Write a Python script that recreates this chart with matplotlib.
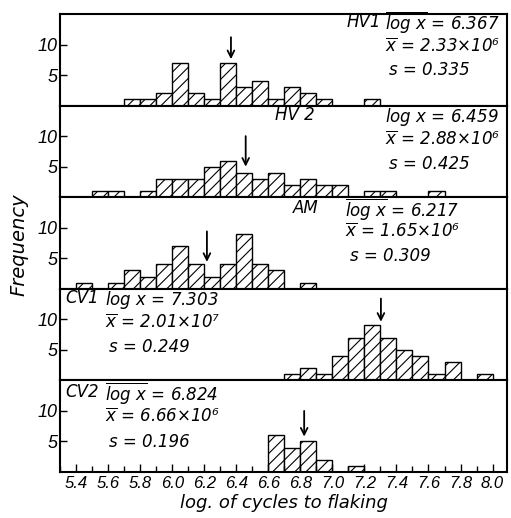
import matplotlib
matplotlib.use('Agg')
import matplotlib.pyplot as plt
from matplotlib.ticker import MultipleLocator, FormatStrFormatter

# ---------------- data ----------------
hv1_bins = [5.7, 5.8, 5.9, 6.0, 6.1, 6.2, 6.3, 6.4, 6.5, 6.6, 6.7, 6.8, 6.9, 7.2]
hv1_counts = [1, 1, 2, 7, 2, 1, 7, 3, 4, 1, 3, 2, 1, 1]
hv2_bins = [5.5, 5.6, 5.8, 5.9, 6.0, 6.1, 6.2, 6.3, 6.4, 6.5, 6.6, 6.7, 6.8, 6.9, 7.0, 7.2, 7.3, 7.6]
hv2_counts = [1, 1, 1, 3, 3, 3, 5, 6, 4, 3, 4, 2, 3, 2, 2, 1, 1, 1]
am_bins = [5.4, 5.6, 5.7, 5.8, 5.9, 6.0, 6.1, 6.2, 6.3, 6.4, 6.5, 6.6, 6.8]
am_counts = [1, 1, 3, 2, 4, 7, 4, 2, 4, 9, 4, 3, 1]
cv1_bins = [6.7, 6.8, 6.9, 7.0, 7.1, 7.2, 7.3, 7.4, 7.5, 7.6, 7.7, 7.9]
cv1_counts = [1, 2, 1, 4, 7, 9, 7, 5, 4, 1, 3, 1]
cv2_bins = [6.6, 6.7, 6.8, 6.9, 7.1]
cv2_counts = [6, 4, 5, 2, 1]

names = ['HV1', 'HV 2', 'AM', 'CV1', 'CV2']
log_means = [6.367, 6.459, 6.217, 7.303, 6.824]
x_means = ['2.33×10⁶', '2.88×10⁶', '1.65×10⁶', '2.01×10⁷', '6.66×10⁶']
s_values = ['0.335', '0.425', '0.309', '0.249', '0.196']
x_tick_values = [5.4, 5.6, 5.8, 6.0, 6.2, 6.4, 6.6, 6.8, 7.0, 7.2, 7.4, 7.6, 7.8, 8.0]
y_tick_values = [5, 10]

all_bins = [hv1_bins, hv2_bins, am_bins, cv1_bins, cv2_bins]
all_counts = [hv1_counts, hv2_counts, am_counts, cv1_counts, cv2_counts]

# ---------------- layout ----------------
plt.rcParams['mathtext.fontset'] = 'dejavusans'
plt.rcParams['hatch.linewidth'] = 0.8
W, H = 511, 518
fig = plt.figure(figsize=(W / 100, H / 100), dpi=100)
fig.patch.set_facecolor('white')

left_px, right_px, top_px, bottom_px = 60, 507, 14, 472
panel_h = (bottom_px - top_px) / 5

# label layout: (name x, name y, stats x, log y, xbar y, s y) in axes fraction
label_layout = [
    (0.642, 0.913, 0.727, 0.913, 0.640, 0.389),
    (0.481, 0.900, 0.727, 0.897, 0.624, 0.362),
    (0.521, 0.882, 0.638, 0.871, 0.620, 0.358),
    (0.011, 0.900, 0.100, 0.900, 0.627, 0.365),
    (0.011, 0.873, 0.100, 0.862, 0.600, 0.328),
]
# arrow (tail, tip) heights in data units
arrow_layout = [(11.2, 7.6), (10.0, 5.0), (9.4, 4.4), (13.4, 9.6), (10.0, 5.8)]

tick_font = ['Liberation Sans', 'DejaVu Sans']
axes = []
for i in range(5):
    top = top_px + i * panel_h
    ax = fig.add_axes([left_px / W, 1 - (top + panel_h) / H,
                       (right_px - left_px) / W, panel_h / H],
                      sharex=axes[0] if axes else None)
    axes.append(ax)
    ax.bar(all_bins[i], all_counts[i], width=0.1, align='edge',
           facecolor='white', edgecolor='black', hatch='///', linewidth=1.0)
    ax.set_xlim(5.30, 8.09)
    ax.set_ylim(0, 15)
    ax.set_yticks(y_tick_values)
    ax.set_yticklabels([str(v) for v in y_tick_values], fontstyle='italic',
                       family=tick_font, fontsize=13)
    ax.tick_params(axis='y', direction='in', length=5, width=1, pad=2)
    for sp in ax.spines.values():
        sp.set_linewidth(1.5)

    nx, ny, sx, ly, xy, sy = label_layout[i]
    kw = dict(transform=ax.transAxes, fontsize=12, fontstyle='italic',
              va='center', ha='left')
    ax.text(nx, ny, names[i], **kw)
    ax.text(sx, ly, r'$\overline{\mathit{log\ x}}$ = ' + f'{log_means[i]:.3f}', **kw)
    ax.text(sx, xy, r'$\overline{\mathit{x}}$ = ' + x_means[i], **kw)
    ax.text(sx + 0.01, sy, 's = ' + s_values[i], **kw)

    tail, tip = arrow_layout[i]
    ax.annotate('', xy=(log_means[i], tip), xytext=(log_means[i], tail),
                arrowprops=dict(arrowstyle='->', lw=1.3, color='black',
                                mutation_scale=12, shrinkA=0, shrinkB=0))

    if i < 4:
        ax.tick_params(axis='x', which='both', bottom=False, labelbottom=False)

bax = axes[-1]
bax.xaxis.set_major_locator(plt.FixedLocator(x_tick_values))
bax.xaxis.set_minor_locator(MultipleLocator(0.1))
bax.xaxis.set_major_formatter(FormatStrFormatter('%.1f'))
bax.tick_params(axis='x', which='major', direction='in', length=6, width=1, pad=3)
bax.tick_params(axis='x', which='minor', direction='in', length=4, width=1)
for lab in bax.get_xticklabels():
    lab.set_fontstyle('italic')
    lab.set_family(tick_font)
    lab.set_fontsize(12)
bax.set_xlabel('log. of cycles to flaking', fontsize=13, fontstyle='italic', labelpad=2)

fig.text(19 / W, 1 - 245 / H, 'Frequency', rotation=90, fontsize=14,
         fontstyle='italic', ha='center', va='center')

fig.savefig('out.png', dpi=100)
